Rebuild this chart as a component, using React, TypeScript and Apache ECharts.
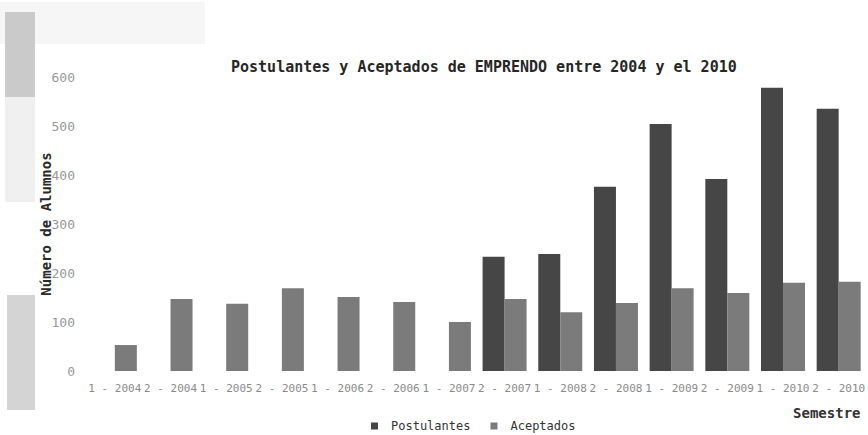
import React, { useEffect, useRef } from "react";
import * as echarts from "echarts";

const categories = [
  "1 - 2004", "2 - 2004", "1 - 2005", "2 - 2005", "1 - 2006", "2 - 2006", "1 - 2007",
  "2 - 2007", "1 - 2008", "2 - 2008", "1 - 2009", "2 - 2009", "1 - 2010", "2 - 2010",
];
const postulantes = [null, null, null, null, null, null, null, 233, 239, 376, 504, 392, 578, 535];
const aceptados = [53, 147, 137, 169, 151, 141, 100, 147, 120, 139, 169, 159, 180, 182];
const seriesNames = ["Postulantes", "Aceptados"];
const titleText = "Postulantes y Aceptados de EMPRENDO entre 2004 y el 2010";
const yAxisName = "Número de Alumnos";
const xAxisName = "Semestre";

const MONO = "'DejaVu Sans Mono', monospace";

export default function App() {
  const ref = useRef<HTMLDivElement>(null);
  useEffect(() => {
    if (!ref.current) return;
    const chart = echarts.init(ref.current, null, { renderer: "svg" });
    chart.setOption({
      animation: false,
      backgroundColor: "#ffffff",
      title: {
        text: titleText,
        left: 226,
        top: 54,
        textStyle: { fontFamily: MONO, fontSize: 15, fontWeight: "bold", color: "#262626" },
      },
      legend: {
        data: seriesNames,
        left: 366,
        top: 415,
        icon: "rect",
        itemWidth: 7,
        itemHeight: 7,
        itemGap: 20,
        textStyle: { fontFamily: MONO, fontSize: 12, color: "#333", padding: [0, 0, 0, 8] },
      },
      grid: { left: 87, right: -3, top: 77, bottom: 64, containLabel: false },
      xAxis: {
        type: "category",
        data: categories,
        name: xAxisName,
        nameLocation: "end",
        nameGap: -6,
        nameMoveOverlap: false,
        nameTextStyle: {
          fontFamily: MONO, fontSize: 14, fontWeight: "bold", color: "#333",
          align: "right", verticalAlign: "top", padding: [35, 0, 0, 0],
        },
        axisLine: { show: false },
        axisTick: { show: false },
        axisLabel: { interval: 0, margin: 12, fontFamily: MONO, fontSize: 11, color: "#8a8a8a" },
      },
      yAxis: {
        type: "value",
        min: 0,
        max: 600,
        interval: 100,
        name: yAxisName,
        nameLocation: "middle",
        nameGap: 34,
        nameMoveOverlap: false,
        nameTextStyle: { fontFamily: MONO, fontSize: 14, fontWeight: "bold", color: "#2a2a2a" },
        axisLine: { show: false },
        axisTick: { show: false },
        splitLine: { show: false },
        axisLabel: { margin: 12, fontFamily: MONO, fontSize: 13, color: "#999" },
      },
      graphic: [
        { type: "rect", z: -10, shape: { x: 0, y: 2, width: 205, height: 42 }, style: { fill: "#f6f6f6" } },
        { type: "rect", z: -9, shape: { x: 5, y: 12, width: 30, height: 85 }, style: { fill: "#cacaca" } },
        { type: "rect", z: -9, shape: { x: 5, y: 97, width: 30, height: 105 }, style: { fill: "#f0f0f0" } },
        { type: "rect", z: -9, shape: { x: 7, y: 295, width: 28, height: 115 }, style: { fill: "#d4d4d4" } },
      ],
      series: [
        {
          name: seriesNames[0],
          type: "bar",
          data: postulantes,
          barWidth: 22,
          barGap: "0%",
          itemStyle: { color: "#464646" },
        },
        {
          name: seriesNames[1],
          type: "bar",
          data: aceptados,
          barWidth: 22,
          barGap: "0%",
          itemStyle: { color: "#7b7b7b" },
        },
      ],
    });
    return () => chart.dispose();
  }, []);
  return (
    <div
      ref={ref}
      style={{ position: "absolute", left: 0, top: 0, width: 868, height: 435 }}
    />
  );
}
